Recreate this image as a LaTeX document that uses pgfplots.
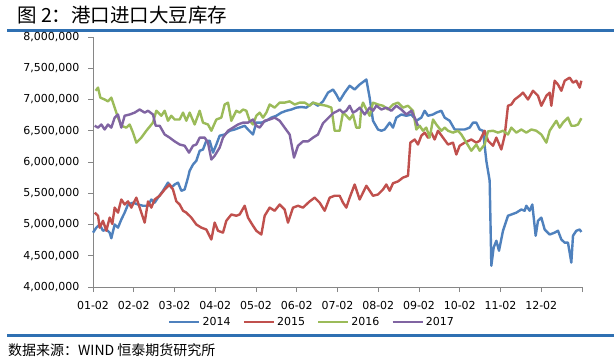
\documentclass[border=0pt]{standalone}
\usepackage{fontspec}
\usepackage{pgfplots}
\pgfplotsset{compat=1.18}
\setmainfont{DejaVu Sans}
\newfontfamily\cjk{Noto Sans CJK SC}
\definecolor{c14}{RGB}{79,129,189}
\definecolor{c15}{RGB}{192,80,77}
\definecolor{c16}{RGB}{155,187,89}
\definecolor{c17}{RGB}{128,100,162}
\definecolor{rulec}{RGB}{47,112,178}
\definecolor{axc}{RGB}{134,134,134}
\begin{document}
\begin{tikzpicture}[x=1pt,y=1pt]
\useasboundingbox (0,0) rectangle (614,360);
\fill[white] (0,0) rectangle (614,360);
\node[anchor=west, inner sep=0pt, font=\cjk\fontsize{19.5}{22}\selectfont] at (17,344.5) {图 2：港口进口大豆库存};
\fill[rulec] (7,328.5) rectangle (614,331.5);
\fill[rulec] (7,23.5) rectangle (614,26.5);
\node[anchor=west, inner sep=0pt, font=\cjk\fontsize{14}{16}\selectfont] at (8,10) {数据来源：WIND 恒泰期货研究所};
\begin{axis}[
  at={(93pt,73pt)}, anchor=south west,
  scale only axis, width=489pt, height=250pt,
  xmin=0, xmax=12, ymin=4, ymax=8,
  xtick={0,1,2,3,4,5,6,7,8,9,10,11,12},
  xticklabels={01-02,02-02,03-02,04-02,05-02,06-02,07-02,08-02,09-02,10-02,11-02,12-02,{}},
  ytick={4,4.5,5,5.5,6,6.5,7,7.5,8},
  yticklabels={{4,000,000},{4,500,000},{5,000,000},{5,500,000},{6,000,000},{6,500,000},{7,000,000},{7,500,000},{8,000,000}},
  axis x line*=bottom, axis y line*=left,
  axis line style={draw=axc, line width=0.8pt, -},
  tick align=outside, major tick length=5pt,
  tick style={draw=axc, line width=0.8pt},
  ticklabel style={font=\fontsize{11}{13}\selectfont, text=black},
  yticklabel style={xshift=-5pt},
  xticklabel style={yshift=-6pt},
  clip=false,
  legend columns=4,
  legend style={at={(0.448,-0.14)}, anchor=center, draw=none, fill=none,
    font=\fontsize{11}{13}\selectfont, /tikz/every even column/.append style={column sep=10pt}},
  legend image code/.code={\draw[#1, line width=2.4pt] (0pt,0pt) -- (30pt,0pt);},
  every axis plot/.append style={line width=2.4pt, line join=round, no marks},
]
\addplot[c14] coordinates {
(0,4.87)(0.082,4.95)(0.164,5.00)(0.245,4.90)(0.327,4.92)(0.409,4.87)(0.450,4.78)(0.532,5.00)(0.613,4.95)(0.695,5.08)(0.777,5.19)(0.859,5.32)(0.982,5.35)(1.104,5.32)(1.227,5.30)(1.350,5.30)(1.431,5.40)(1.513,5.35)(1.595,5.43)(1.718,5.54)(1.840,5.67)(1.922,5.59)(2.004,5.64)(2.086,5.67)(2.168,5.54)(2.249,5.56)(2.331,5.75)(2.372,5.86)(2.454,5.96)(2.536,6.02)(2.618,6.18)(2.699,6.20)(2.781,6.34)(2.863,6.34)(2.945,6.15)(3.027,6.28)(3.108,6.42)(3.231,6.44)(3.354,6.50)(3.476,6.52)(3.599,6.55)(3.722,6.58)(3.804,6.52)(3.926,6.44)(4.008,6.63)(4.131,6.63)(4.254,6.66)(4.376,6.71)(4.499,6.74)(4.622,6.79)(4.744,6.82)(4.867,6.84)(4.990,6.87)(5.112,6.88)(5.235,6.87)(5.399,6.95)(5.521,6.90)(5.644,6.97)(5.767,7.11)(5.890,7.16)(5.971,7.08)
(6.053,6.98)(6.176,7.11)(6.299,7.22)(6.421,7.16)(6.544,7.24)(6.667,7.30)(6.708,7.32)(6.789,7.03)(6.871,6.66)(6.994,6.52)(7.076,6.50)(7.157,6.52)(7.280,6.63)(7.362,6.55)(7.444,6.71)(7.566,6.76)(7.689,6.74)(7.812,6.76)(7.935,6.66)(8.057,6.71)(8.139,6.82)(8.221,6.74)(8.344,6.76)(8.425,6.79)(8.548,6.82)(8.630,6.71)(8.753,6.66)(8.875,6.52)(8.998,6.52)(9.121,6.52)(9.243,6.55)(9.325,6.63)(9.407,6.63)(9.489,6.52)(9.571,6.50)(9.652,6.02)(9.734,5.70)(9.775,4.34)(9.832,4.63)(9.898,4.74)(9.963,4.58)(10.061,4.90)(10.184,5.14)(10.266,5.16)(10.389,5.19)(10.511,5.24)(10.593,5.22)(10.634,5.30)(10.716,5.22)(10.781,5.32)(10.863,4.82)(10.920,5.06)(11.002,5.11)(11.084,4.92)(11.207,4.84)(11.329,4.87)(11.411,4.90)(11.493,4.76)(11.575,4.71)(11.656,4.71)(11.738,4.39)(11.779,4.82)(11.861,4.90)(11.943,4.92)(11.984,4.88)
};
\addlegendentry{2014}
\addplot[c15] coordinates {
(0.041,5.19)(0.123,5.14)(0.164,4.95)(0.245,5.06)(0.327,4.90)(0.409,5.11)(0.474,5.01)(0.532,5.27)(0.613,5.19)(0.695,5.40)(0.777,5.32)(0.859,5.37)(0.941,5.27)(1.063,5.43)(1.145,5.27)(1.268,5.03)(1.350,5.37)(1.431,5.27)(1.513,5.40)(1.636,5.46)(1.759,5.56)(1.881,5.64)(1.963,5.56)(2.045,5.37)(2.127,5.32)(2.209,5.22)(2.290,5.19)(2.413,5.11)(2.536,5.00)(2.658,4.95)(2.781,4.92)(2.904,4.76)(2.986,5.03)(3.067,4.90)(3.190,4.87)(3.272,5.06)(3.395,5.16)(3.517,5.14)(3.599,5.16)(3.722,5.30)(3.804,5.11)(3.926,4.98)(4.008,4.90)(4.131,4.84)(4.213,5.14)(4.335,5.27)(4.458,5.22)(4.581,5.32)(4.703,5.24)(4.785,5.03)(4.908,5.27)(5.031,5.30)(5.153,5.27)(5.317,5.37)(5.440,5.43)(5.562,5.35)(5.685,5.22)(5.808,5.43)(5.930,5.46)
(6.053,5.46)(6.135,5.35)(6.217,5.27)(6.299,5.43)(6.421,5.64)(6.544,5.40)(6.708,5.62)(6.871,5.46)(6.994,5.48)(7.117,5.56)(7.198,5.64)(7.280,5.54)(7.362,5.66)(7.485,5.69)(7.607,5.75)(7.730,5.78)(7.787,6.31)(7.894,6.36)(7.975,6.28)(8.057,6.42)(8.139,6.47)(8.221,6.39)(8.303,6.47)(8.384,6.36)(8.466,6.50)(8.589,6.39)(8.712,6.28)(8.834,6.31)(8.916,6.12)(8.998,6.26)(9.121,6.31)(9.284,6.36)(9.407,6.31)(9.489,6.34)(9.611,6.50)(9.693,6.34)(9.816,6.26)(9.898,6.39)(10.020,6.20)(10.102,6.42)(10.184,6.90)(10.266,6.92)(10.348,7.00)(10.470,7.06)(10.552,7.11)(10.675,7.00)(10.798,7.14)(10.920,7.06)(11.002,6.90)(11.125,7.06)(11.207,7.11)(11.247,6.90)(11.329,7.30)(11.411,7.24)(11.493,7.14)(11.575,7.30)(11.697,7.35)(11.779,7.27)(11.861,7.30)(11.943,7.19)(11.984,7.30)
};
\addlegendentry{2015}
\addplot[c16] coordinates {
(0.065,7.14)(0.123,7.19)(0.180,7.03)(0.286,7.00)(0.368,6.97)(0.450,7.03)(0.532,6.87)(0.613,6.71)(0.695,6.58)(0.818,6.55)(0.900,6.60)(0.982,6.47)(1.063,6.31)(1.186,6.39)(1.309,6.50)(1.472,6.63)(1.554,6.82)(1.677,6.74)(1.759,6.82)(1.840,6.66)(1.922,6.74)(2.004,6.68)(2.127,6.68)(2.209,6.79)(2.290,6.66)(2.372,6.79)(2.495,6.60)(2.618,6.82)(2.699,6.63)(2.822,6.60)(2.904,6.50)(3.027,6.68)(3.149,6.71)(3.231,6.92)(3.313,6.95)(3.395,6.66)(3.517,6.82)(3.599,6.79)(3.681,6.84)(3.763,6.82)(3.845,6.66)(3.926,6.60)(4.008,6.74)(4.090,6.79)(4.172,6.71)(4.254,6.79)(4.335,6.92)(4.458,6.87)(4.581,6.95)(4.703,6.95)(4.826,6.97)(4.949,6.92)(5.072,6.95)(5.194,6.95)(5.317,6.90)(5.399,6.95)(5.562,6.92)(5.726,6.90)(5.849,6.87)(5.930,6.50)
(6.053,6.50)(6.135,6.79)(6.217,6.74)(6.299,6.68)(6.380,6.76)(6.462,6.55)(6.544,6.55)(6.585,6.87)(6.626,6.95)(6.708,6.84)(6.789,6.74)(6.871,6.95)(6.994,6.92)(7.117,6.90)(7.239,6.84)(7.362,6.92)(7.485,6.95)(7.607,6.87)(7.730,6.90)(7.853,6.82)(7.935,6.52)(8.016,6.58)(8.098,6.50)(8.180,6.55)(8.262,6.39)(8.344,6.68)(8.425,6.60)(8.548,6.50)(8.630,6.55)(8.712,6.50)(8.834,6.47)(8.957,6.50)(9.039,6.44)(9.162,6.31)(9.284,6.18)(9.407,6.28)(9.489,6.18)(9.611,6.28)(9.693,6.49)(9.816,6.50)(9.939,6.47)(10.061,6.50)(10.184,6.44)(10.266,6.55)(10.389,6.47)(10.511,6.52)(10.634,6.47)(10.757,6.52)(10.879,6.50)(11.002,6.44)(11.125,6.31)(11.207,6.50)(11.288,6.58)(11.370,6.66)(11.452,6.55)(11.534,6.63)(11.656,6.71)(11.738,6.58)(11.820,6.58)(11.902,6.60)(11.984,6.70)
};
\addlegendentry{2016}
\addplot[c17] coordinates {
(0.041,6.58)(0.123,6.55)(0.204,6.60)(0.286,6.52)(0.368,6.60)(0.450,6.55)(0.532,6.71)(0.613,6.76)(0.695,6.55)(0.777,6.74)(0.900,6.76)(1.022,6.79)(1.145,6.84)(1.268,6.79)(1.350,6.82)(1.472,6.76)(1.538,6.58)(1.636,6.58)(1.759,6.44)(1.881,6.39)(2.004,6.33)(2.127,6.28)(2.249,6.26)(2.356,6.15)(2.454,6.26)(2.536,6.28)(2.618,6.39)(2.740,6.39)(2.822,6.31)(2.904,6.04)(2.986,6.10)(3.108,6.23)(3.190,6.39)(3.313,6.50)(3.436,6.55)(3.558,6.60)(3.681,6.63)(3.804,6.63)(3.926,6.68)(4.008,6.58)(4.090,6.55)(4.213,6.66)(4.335,6.68)(4.458,6.71)(4.581,6.66)(4.703,6.55)(4.826,6.44)(4.933,6.07)(5.031,6.26)(5.153,6.33)(5.276,6.33)(5.399,6.39)(5.521,6.44)(5.644,6.62)(5.767,6.70)(5.890,6.78)(6.012,6.82)
(6.053,6.84)(6.135,6.79)(6.217,6.82)(6.299,6.90)(6.380,6.79)(6.462,6.82)(6.544,6.87)(6.667,6.76)(6.789,6.87)(6.871,6.82)(6.953,6.90)(7.076,6.84)(7.198,6.87)(7.321,6.82)(7.444,6.90)(7.566,6.84)(7.689,6.76)(7.812,6.82)(7.894,6.71)(7.975,6.58)
};
\addlegendentry{2017}
\end{axis}
\end{tikzpicture}
\end{document}
